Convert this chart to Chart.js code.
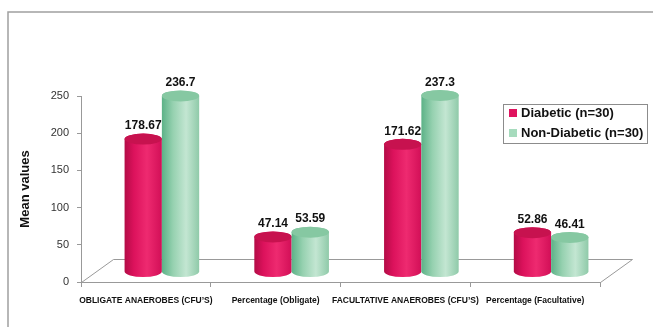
<!DOCTYPE html>
<html>
<head>
<meta charset="utf-8">
<script src="https://cdn.jsdelivr.net/npm/chart.js@4"></script>
<style>
  html, body { margin: 0; padding: 0; background: #fff; }
  #wrap { width: 653px; height: 327px; }
</style>
</head>
<body>
<div id="wrap"><canvas id="chart"></canvas></div>
<script>
// chart data
const categories = [
  'OBLIGATE ANAEROBES (CFU’S)',
  'Percentage (Obligate)',
  'FACULTATIVE ANAEROBES (CFU’S)',
  'Percentage (Facultative)'
];
const seriesNames = ['Diabetic (n=30)', 'Non-Diabetic (n=30)'];
const diabetic = [178.67, 47.14, 171.62, 52.86];
const nonDiabetic = [236.7, 53.59, 237.3, 46.41];
const yTicks = [0, 50, 100, 150, 200, 250];

const FONT = "'Liberation Sans', Arial, sans-serif";

// depth of the 3D floor
const DEPTH_X = 32, DEPTH_Y = 23;

const palettes = [
  {
    swatch: '#e0145f',
    body: [[0, '#b30c46'], [0.25, '#dc125c'], [0.6, '#ee2a70'], [1, '#d20f57']],
    top: '#c7124f'
  },
  {
    swatch: '#a6dbbd',
    body: [[0, '#5cb287'], [0.3, '#96d1b0'], [0.65, '#c3e6d2'], [1, '#8fcaa9']],
    top: '#86c8a2'
  }
];

/**
 * Draw one cylinder standing on the floor.
 */
function drawCylinder(ctx, cx, topY, botY, w, pal) {
  const rx = w / 2, ry = 5.5;
  const left = cx - rx, right = cx + rx;
  const g = ctx.createLinearGradient(left, 0, right, 0);
  pal.body.forEach(([s, c]) => g.addColorStop(s, c));

  ctx.beginPath();
  ctx.moveTo(left, topY);
  ctx.lineTo(left, botY);
  ctx.ellipse(cx, botY, rx, ry, 0, Math.PI, 0, true);
  ctx.lineTo(right, topY);
  ctx.ellipse(cx, topY, rx, ry, 0, 0, Math.PI, true);
  ctx.closePath();
  ctx.fillStyle = g;
  ctx.fill();

  ctx.beginPath();
  ctx.ellipse(cx, topY, rx, ry, 0, 0, Math.PI * 2);
  ctx.fillStyle = pal.top;
  ctx.fill();
}

const cylinderPlugin = {
  id: 'cylinders',
  beforeDraw(chart) {
    // outer frame
    const ctx = chart.ctx;
    ctx.save();
    ctx.strokeStyle = '#a0a0a0';
    ctx.lineWidth = 1.5;
    ctx.strokeRect(8, 12, 700, 400);
    ctx.restore();
  },
  beforeDatasetsDraw(chart) {
    // floor parallelogram
    const { ctx, chartArea: a } = chart;
    ctx.save();
    ctx.strokeStyle = '#999';
    ctx.lineWidth = 1;
    ctx.beginPath();
    ctx.moveTo(a.left + 0.5, a.bottom + 0.5);
    ctx.lineTo(a.left + DEPTH_X + 0.5, a.bottom - DEPTH_Y + 0.5);
    ctx.lineTo(a.right + DEPTH_X + 0.5, a.bottom - DEPTH_Y + 0.5);
    ctx.lineTo(a.right + 0.5, a.bottom + 0.5);
    ctx.stroke();
    ctx.restore();
  },
  beforeDatasetDraw() {
    return false;
  },
  afterDatasetsDraw(chart) {
    const ctx = chart.ctx;
    const dx = DEPTH_X / 2, dy = -10;
    ctx.save();
    chart.data.datasets.forEach((ds, i) => {
      const meta = chart.getDatasetMeta(i);
      meta.data.forEach((el, j) => {
        const cx = el.x + dx;
        const topY = el.y + dy;
        drawCylinder(ctx, cx, topY, el.base + dy, el.width, palettes[i]);
      });
    });
    // value labels
    ctx.font = 'bold 12px ' + FONT;
    ctx.fillStyle = '#111';
    ctx.textAlign = 'center';
    ctx.textBaseline = 'bottom';
    chart.data.datasets.forEach((ds, i) => {
      chart.getDatasetMeta(i).data.forEach((el, j) => {
        ctx.fillText(String(ds.data[j]), el.x + dx, el.y + dy - 7);
      });
    });

    // legend box
    ctx.fillStyle = '#fff';
    ctx.fillRect(503, 104, 144, 39);
    ctx.strokeStyle = '#8c8c8c';
    ctx.lineWidth = 1;
    ctx.strokeRect(503.5, 104.5, 144, 39);
    ctx.font = 'bold 13px ' + FONT;
    ctx.textAlign = 'left';
    ctx.textBaseline = 'middle';
    chart.data.datasets.forEach((ds, i) => {
      const y = 113 + i * 20;
      ctx.fillStyle = palettes[i].swatch;
      ctx.fillRect(509, y - 4, 8, 8);
      ctx.fillStyle = '#111';
      ctx.fillText(ds.label, 521, y);
    });
    ctx.restore();
  }
};

new Chart(document.getElementById('chart'), {
  type: 'bar',
  data: {
    labels: categories,
    datasets: [
      { label: seriesNames[0], data: diabetic, backgroundColor: palettes[0].swatch },
      { label: seriesNames[1], data: nonDiabetic, backgroundColor: palettes[1].swatch }
    ]
  },
  options: {
    responsive: true,
    maintainAspectRatio: false,
    animation: false,
    datasets: {
      bar: { categoryPercentage: 0.575, barPercentage: 1.0 }
    },
    layout: { padding: { left: 8, right: 53, top: 96, bottom: 0 } },
    plugins: {
      legend: { display: false },
      tooltip: { enabled: true }
    },
    scales: {
      x: {
        grid: { drawOnChartArea: false, tickLength: 5, color: '#999', offset: true },
        border: { color: '#999' },
        ticks: {
          autoSkip: false, maxRotation: 0, minRotation: 0, padding: 9,
          color: '#111',
          font: { family: FONT, size: 8.5, weight: 'bold' }
        },
        afterFit: s => { s.height = 45; }
      },
      y: {
        min: 0,
        max: 250,
        afterBuildTicks: s => { s.ticks = yTicks.map(v => ({ value: v })); },
        grid: { drawOnChartArea: false, tickLength: 4, color: '#999' },
        border: { color: '#999' },
        ticks: { padding: 8, color: '#333', font: { family: FONT, size: 11 } },
        title: {
          display: true,
          text: 'Mean values',
          color: '#111',
          font: { family: FONT, size: 13, weight: 'bold' },
          padding: { top: 10, bottom: 0 }
        },
        afterFit: s => { s.width = 73; }
      }
    }
  },
  plugins: [cylinderPlugin]
});
</script>
</body>
</html>
